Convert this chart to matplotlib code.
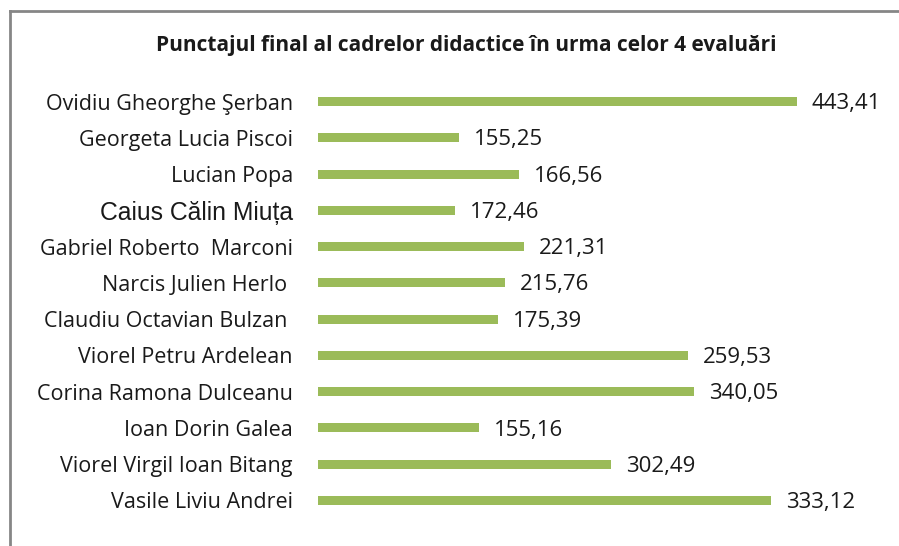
import matplotlib
matplotlib.use("Agg")
import matplotlib.pyplot as plt
from matplotlib.lines import Line2D

title = "Punctajul final al cadrelor didactice în urma celor 4 evaluări"
names = [
    "Ovidiu Gheorghe Şerban",
    "Georgeta Lucia Piscoi",
    "Lucian Popa",
    "Caius Călin Miuța",
    "Gabriel Roberto  Marconi",
    "Narcis Julien Herlo ",
    "Claudiu Octavian Bulzan ",
    "Viorel Petru Ardelean",
    "Corina Ramona Dulceanu",
    "Ioan Dorin Galea",
    "Viorel Virgil Ioan Bitang",
    "Vasile Liviu Andrei",
]
# bar lengths as drawn in the picture (they do not follow the printed labels)
bar_lengths = [443.4, 130.6, 186.2, 126.9, 190.8, 173.2, 166.7, 342.7, 348.3, 149.1, 271.4, 419.6]
value_labels = ["443,41", "155,25", "166,56", "172,46", "221,31", "215,76",
                "175,39", "259,53", "340,05", "155,16", "302,49", "333,12"]

W, H = 899, 546
fig = plt.figure(figsize=(W / 100, H / 100), dpi=100)
ax = fig.add_axes([318 / W, 1 - 518.6 / H, 1 - 318 / W, (518.6 - 83.4) / H])

label_font = ["Open Sans", "DejaVu Sans"]
y = list(range(len(names)))
ax.barh(y, bar_lengths, height=0.25, color="#9BBB59", zorder=2)
ax.set_ylim(len(names) - 0.5, -0.5)
ax.set_xlim(0, 581 * 0.9263)

for yi, v, lab in zip(y, bar_lengths, value_labels):
    ax.annotate(lab, (v, yi), xytext=(10.5, -1.5), textcoords="offset points",
                va="center", ha="left", fontsize=16, family=label_font,
                color="#1a1a1a")

ax.set_yticks(y)
ax.set_yticklabels(names)
for i, t in enumerate(ax.get_yticklabels()):
    if i == 3:
        t.set_family(["Liberation Sans", "DejaVu Sans"])
        t.set_fontsize(17.8)
    else:
        t.set_family(label_font)
        t.set_fontsize(15.5)
    t.set_color("#1a1a1a")
ax.tick_params(axis="y", length=0, pad=18)
ax.set_xticks([])
for s in ax.spines.values():
    s.set_visible(False)

fig.text(466 / W, 1 - 45 / H, title, ha="center", va="center",
         fontsize=15, fontweight="bold", family=label_font, color="#1a1a1a")

# outer chart border (top and left visible)
fig.add_artist(Line2D([10 / W, 1], [1 - 11 / H, 1 - 11 / H], transform=fig.transFigure,
                      color="#868686", lw=2))
fig.add_artist(Line2D([10 / W, 10 / W], [0, 1 - 11 / H], transform=fig.transFigure,
                      color="#868686", lw=2))

fig.savefig("out.png", dpi=100)
